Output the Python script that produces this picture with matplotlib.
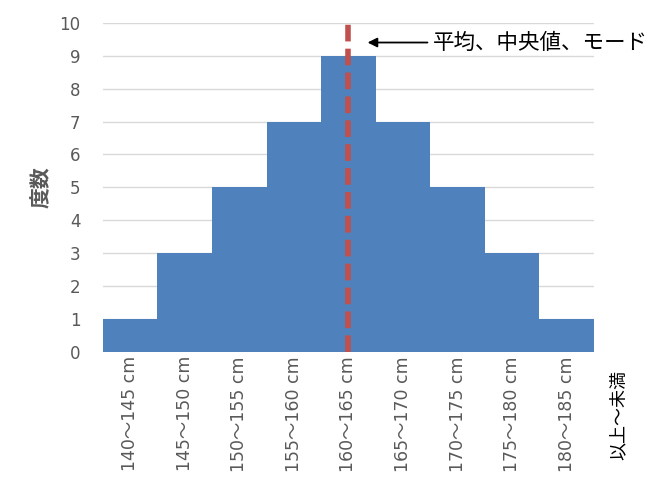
import matplotlib.pyplot as plt

plt.rcParams['font.family'] = ['Noto Sans CJK JP', 'DejaVu Sans']

bins = ['140～145 cm', '145～150 cm', '150～155 cm', '155～160 cm', '160～165 cm',
        '165～170 cm', '170～175 cm', '175～180 cm', '180～185 cm']
counts = [1, 3, 5, 7, 9, 7, 5, 3, 1]
center_idx = 4  # 平均・中央値・モードの階級

num_font = ['DejaVu Sans', 'Noto Sans CJK JP']

fig = plt.figure(figsize=(6.72, 4.95), dpi=100)
ax = fig.add_axes([0.153, 0.289, 0.731, 0.665])

x = list(range(len(bins)))
ax.bar(x, counts, width=1.0, color='#4F81BD', zorder=2)
ax.axvline(center_idx, color='#C0504D', lw=4, dashes=(3, 1.3), zorder=3)

ax.set_xlim(-0.5, len(bins) - 0.5)
ax.set_ylim(0, 10)
ax.set_yticks(range(0, 11))
ax.set_xticks(x)
ax.set_xticklabels(bins, rotation=90, color='#595959', fontsize=12.5, family=num_font)
ax.set_yticklabels([str(v) for v in range(0, 11)], family=num_font)
ax.tick_params(axis='y', colors='#595959', labelsize=12, length=0, pad=16)
ax.tick_params(axis='x', length=0, pad=3)
ax.grid(axis='y', color='#D9D9D9', lw=1, zorder=0)
for s in ax.spines.values():
    s.set_visible(False)

ax.set_ylabel('度数', color='#595959', fontsize=15, fontweight='bold')
ax.yaxis.set_label_coords(-0.104, 0.5)

ax.annotate('平均、中央値、モード', xy=(center_idx + 0.3, 9.4), xytext=(center_idx + 1.55, 9.4),
            fontsize=15.5, va='center', ha='left',
            arrowprops=dict(arrowstyle='-|>', color='black', lw=1.3, mutation_scale=14))

fig.text(0.92, 0.253, '以上～未満', rotation=90, va='top', ha='center', fontsize=13)

fig.savefig('out.png', dpi=100)
